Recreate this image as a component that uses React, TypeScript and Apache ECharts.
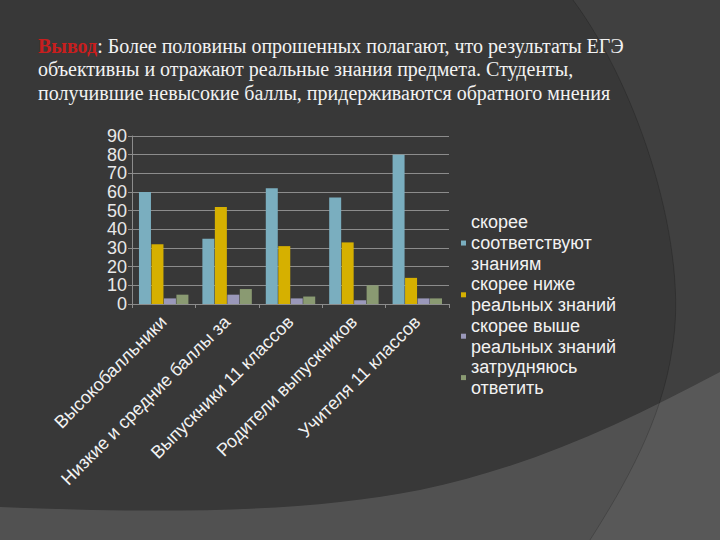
import React, { useEffect, useRef } from 'react';
import * as echarts from 'echarts';

const categories = [
  'Высокобалльники',
  'Низкие и средние баллы за',
  'Выпускники 11 классов',
  'Родители выпускников',
  'Учителя 11 классов',
];
const seriesNames = [
  'скорее\nсоответствуют\nзнаниям',
  'скорее ниже\nреальных знаний',
  'скорее выше\nреальных знаний',
  'затрудняюсь\nответить',
];
const correspond = [60, 35, 62, 57, 80];
const lower = [32, 52, 31, 33, 14];
const higher = [3, 5, 3, 2, 3];
const unsure = [5, 8, 4, 10, 3];
const seriesValues = [correspond, lower, higher, unsure];
const seriesColors = ['#7aaebf', '#d6b000', '#9a98ba', '#8a9a72'];

const yMin = 0;
const yMax = 90;
const yStep = 10;

const titleLead = 'Вывод';
const titleText =
  ': Более половины опрошенных полагают, что результаты ЕГЭ\nобъективны и отражают реальные знания предмета. Студенты,\nполучившие невысокие баллы, придерживаются обратного мнения';

const RIGHT_D = 'M573,0 C640,90 690,250 672,350 C662,420 625,485 590,540 L720,540 L720,0 Z';
const BAND_D = 'M0,507 C150,513 300,514 420,490 C530,467 620,425 720,372 L720,540 L0,540 Z';
const ARC_D = 'M573,0 C640,90 690,250 672,350 C662,420 625,485 590,540';

let registered = false;
function registerShapes() {
  if (registered) return;
  registered = true;
  echarts.graphic.registerShape('bgRight', echarts.graphic.extendPath(RIGHT_D, {}));
  echarts.graphic.registerShape('bgBand', echarts.graphic.extendPath(BAND_D, {}));
  echarts.graphic.registerShape('bgArc', echarts.graphic.extendPath(ARC_D, {}));
}

const sansFont = '"Liberation Sans", Arial, sans-serif';
const serifFont = '"Liberation Serif", "Times New Roman", serif';

export default function App() {
  const ref = useRef<HTMLDivElement>(null);

  useEffect(() => {
    document.body.style.margin = '0';
    registerShapes();
    const chart = echarts.init(ref.current!, undefined, { renderer: 'svg' });
    chart.setOption({
      animation: false,
      backgroundColor: '#383838',
      graphic: {
        elements: [
          { type: 'bgBand', x: 0, y: 0, z: -10, style: { fill: 'rgba(255,255,255,0.13)' } },
          { type: 'bgRight', x: 0, y: 0, z: -9, style: { fill: 'rgba(255,255,255,0.045)' } },
          { type: 'bgArc', x: 0, y: 0, z: -8, style: { fill: 'none', stroke: 'rgba(0,0,0,0.18)', lineWidth: 1 } },
        ],
      },
      title: {
        text: '{r|' + titleLead + '}' + titleText,
        left: 38,
        top: 34,
        padding: 0,
        textStyle: {
          fontFamily: serifFont,
          fontSize: 20,
          fontWeight: 'normal',
          color: '#f2f2f2',
          lineHeight: 23.5,
          rich: {
            r: {
              fontFamily: serifFont,
              fontSize: 20,
              fontWeight: 'bold',
              color: '#c81e1e',
              lineHeight: 23.5,
            },
          },
        },
      },
      legend: {
        orient: 'vertical',
        left: 461,
        top: 212,
        padding: 0,
        itemGap: 0,
        itemWidth: 5,
        itemHeight: 5,
        icon: 'rect',
        data: seriesNames,
        textStyle: {
          fontFamily: sansFont,
          fontSize: 18,
          color: '#f2f2f2',
          lineHeight: 20.7,
        },
      },
      grid: { left: 132, right: 271, top: 136, bottom: 236, containLabel: false },
      xAxis: {
        type: 'category',
        data: categories,
        axisLine: { show: true, lineStyle: { color: '#8c8c8c', width: 1 } },
        axisTick: { show: true, length: 4, lineStyle: { color: '#8c8c8c' } },
        axisLabel: {
          rotate: 45,
          margin: 15,
          interval: 0,
          fontFamily: sansFont,
          fontSize: 18,
          color: '#f2f2f2',
        },
      },
      yAxis: {
        type: 'value',
        min: yMin,
        max: yMax,
        interval: yStep,
        axisLine: { show: true, lineStyle: { color: '#8c8c8c', width: 1 } },
        axisTick: { show: true, length: 4, lineStyle: { color: '#8c8c8c' } },
        splitLine: { show: true, lineStyle: { color: '#8c8c8c', width: 1 } },
        axisLabel: {
          margin: 5,
          fontFamily: sansFont,
          fontSize: 18,
          color: '#e8e8e8',
        },
      },
      series: seriesNames.map((name, i) => ({
        name,
        type: 'bar',
        data: seriesValues[i],
        barWidth: 12,
        barGap: '4%',
        itemStyle: { color: seriesColors[i] },
      })),
    });
    return () => chart.dispose();
  }, []);

  return (
    <div
      ref={ref}
      style={{ position: 'fixed', left: 0, top: 0, width: 720, height: 540 }}
    />
  );
}
